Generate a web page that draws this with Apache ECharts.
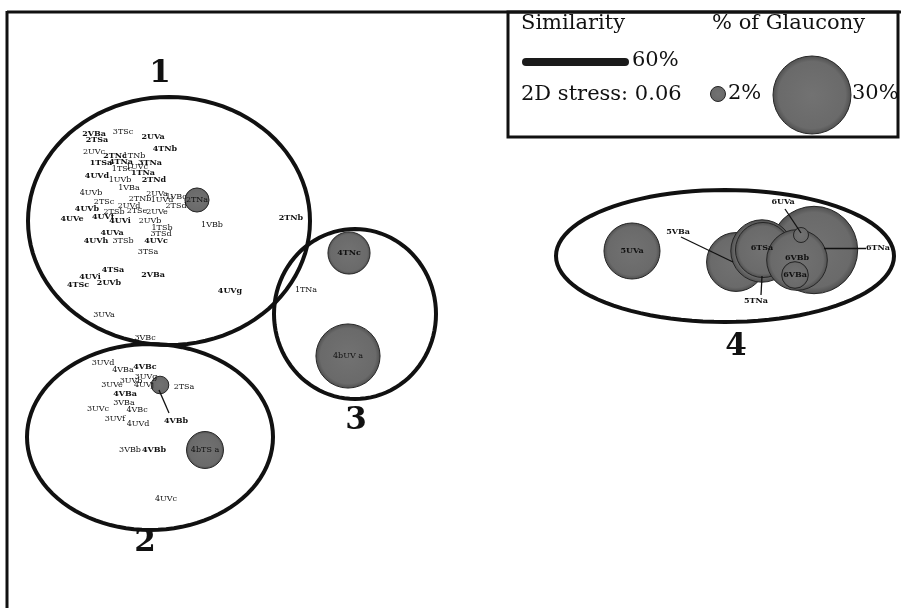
<!DOCTYPE html>
<html>
<head>
<meta charset="utf-8">
<script src="https://cdn.jsdelivr.net/npm/echarts@6/dist/echarts.min.js"></script>
<style>
  html, body { margin: 0; padding: 0; background: #fff; }
  #chart { width: 901px; height: 608px; }
</style>
</head>
<body>
<div id="chart"></div>
<script>
// nMDS ordination of samples (plot units), 2D stress 0.06

// Sample labels, regular weight: [name, MDS1, MDS2]
const samplesRegular = [
  ['3TSc', 123, 132], ['2UVc', 94, 152], ['1TNb', 134, 156], ['1TSc', 122, 169],
  ['1UVc', 137, 167], ['1UVb', 120, 180], ['1VBa', 129, 188], ['4UVb', 91, 193],
  ['2UVa', 157, 194], ['1UVd', 162, 200], ['1VBc', 176, 197], ['2TNb', 140, 199],
  ['2TSd', 176, 206], ['2TSc', 104, 202], ['2UVd', 129, 206], ['2TSb', 114, 212],
  ['2TSe', 137, 211], ['2UVe', 157, 212], ['2UVb', 150, 221], ['1VBb', 212, 225],
  ['1TSb', 162, 228], ['3TSd', 161, 234], ['3TSb', 123, 241], ['3TSa', 148, 252],
  ['3UVa', 104, 315], ['3VBc', 145, 338], ['1TNa', 306, 290],
  ['3UVd', 103, 363], ['4VBa', 123, 370], ['3UVg', 146, 377], ['3UVb', 131, 381],
  ['3UVe', 112, 385], ['4UVj', 144, 385], ['2TSa', 184, 387], ['3UVc', 98, 409],
  ['3VBa', 124, 403], ['4VBc', 137, 410], ['3UVf', 115, 419], ['4UVd', 138, 424],
  ['3VBb', 130, 450], ['4UVc', 166, 499]
];

// Sample labels, bold weight: [name, MDS1, MDS2]
const samplesBold = [
  ['2VBa', 94, 134], ['2TSa', 97, 140], ['2UVa', 153, 137], ['4TNb', 165, 149],
  ['2TNc', 115, 156], ['1TSa', 101, 163], ['4TNa', 121, 162], ['3TNa', 150, 163],
  ['4UVd', 97, 176], ['1TNa', 143, 173], ['2TNd', 154, 180], ['4UVb', 87, 209],
  ['4UVe', 72, 219], ['4UVf', 103, 217], ['4UVi', 120, 221], ['4UVa', 112, 233],
  ['4UVh', 96, 241], ['4UVc', 156, 241], ['4TSa', 113, 270], ['2VBa', 153, 275],
  ['4UVi', 90, 277], ['4TSc', 78, 285], ['2UVb', 109, 283], ['4UVg', 230, 291],
  ['2TNb', 291, 218], ['4VBc', 145, 367], ['4VBa', 125, 394], ['4VBb', 176, 421],
  ['4VBb', 154, 450]
];

// Samples containing glaucony: [name, MDS1, MDS2, % of glaucony]
const glaucony = [
  ['2TNa', 197, 200, 4],
  ['4TNc', 349, 253, 10],
  ['4bUV a', 348, 356, 21],
  ['4VBb', 160, 385, 2.5],
  ['4bTS a', 205, 450, 8],
  ['5UVa', 632, 251, 16.5],
  ['5VBa', 736, 262, 18],
  ['6TNa', 814, 250, 37],
  ['6TSa', 762, 251, 20],
  ['5TNa', 763, 250, 16],
  ['6VBb', 797, 260, 19],
  ['6VBa', 795, 275, 4.7],
  ['6UVa', 801, 235, 2]
];

// Label anchors of glaucony samples: [name, MDS1, MDS2, bold]
const glauconyLabels = [
  ['2TNa', 197, 200, 0], ['4TNc', 349, 253, 1], ['4bUV a', 348, 356, 0],
  ['4bTS a', 205, 450, 0], ['5UVa', 632, 251, 1], ['6TSa', 762, 248, 1],
  ['6VBb', 797, 258, 1], ['6VBa', 795, 275, 1], ['5VBa', 678, 232, 1],
  ['6UVa', 783, 202, 1], ['6TNa', 878, 248, 1], ['5TNa', 756, 301, 1]
];

// Leader lines from labels to their circles
const leaders = [
  [[169, 413], [159, 390]],
  [[681, 237], [733, 262]],
  [[785, 209], [801, 233]],
  [[824, 248], [866, 248]],
  [[761, 295], [762, 276]]
];

// 60 % similarity contours: [centre MDS1, centre MDS2, radius 1, radius 2]
const contours = [
  [169, 221, 141, 124],
  [150, 437, 123, 93],
  [355, 314, 81, 85],
  [725, 256, 169, 66]
];

// Group numbers: [label, MDS1, MDS2]
const groups = [['1', 160, 74], ['2', 145, 543], ['3', 356, 421], ['4', 736, 347]];

// Legend values
const legendPct = [2, 30];

const FONT = 'DejaVu Serif';
const INK = '#111111';

// circle diameter for a glaucony percentage
function glauconySize(pct) {
  return 15.5 * Math.sqrt(pct) - 6.9;
}

const bubbleFill = {
  type: 'radial', x: 0.5, y: 0.5, r: 0.5,
  colorStops: [{ offset: 0, color: '#727272' }, { offset: 0.85, color: '#6a6a6a' }, { offset: 1, color: '#4e4e4e' }]
};

function textSeries(rows, weight, size) {
  return {
    type: 'scatter',
    silent: true,
    symbolSize: 1,
    itemStyle: { color: 'rgba(0,0,0,0)', opacity: 1 },
    data: rows.map(r => ({ name: r[0], value: [r[1], r[2]] })),
    label: {
      show: true,
      position: 'inside',
      formatter: p => p.name,
      fontFamily: FONT,
      fontSize: size,
      fontWeight: weight,
      color: INK,
      opacity: 1
    },
    z: 5
  };
}

const chart = echarts.init(document.getElementById('chart'), null, { renderer: 'canvas' });

const legendSmall = glauconySize(legendPct[0]);
const legendBig = glauconySize(legendPct[1]);

chart.setOption({
  animation: false,
  backgroundColor: '#ffffff',
  grid: { left: 0, right: 0, top: 0, bottom: 0 },
  xAxis: { type: 'value', min: 0, max: 901, show: false },
  yAxis: { type: 'value', min: 0, max: 608, inverse: true, show: false },
  series: [
    {
      type: 'custom',
      silent: true,
      data: contours,
      renderItem: function (params, api) {
        const cx = api.value(0), cy = api.value(1), rx = api.value(2), ry = api.value(3);
        const pts = [];
        for (let i = 0; i <= 96; i++) {
          const a = (i / 96) * Math.PI * 2;
          pts.push(api.coord([cx + rx * Math.cos(a), cy + ry * Math.sin(a)]));
        }
        return {
          type: 'polygon',
          shape: { points: pts },
          style: { fill: 'none', stroke: INK, lineWidth: 4 }
        };
      },
      z: 1
    },
    {
      type: 'scatter',
      silent: true,
      data: glaucony.map(g => ({ name: g[0], value: [g[1], g[2], g[3]] })),
      symbolSize: v => glauconySize(v[2]),
      itemStyle: { color: bubbleFill, borderColor: '#262626', borderWidth: 1, opacity: 1 },
      z: 3
    },
    {
      type: 'lines',
      coordinateSystem: 'cartesian2d',
      silent: true,
      data: leaders.map(c => ({ coords: c })),
      lineStyle: { color: INK, width: 1.3, opacity: 1 },
      z: 4
    },
    textSeries(samplesRegular, 'normal', 8),
    textSeries(samplesBold, 'bold', 8),
    textSeries(glauconyLabels.filter(r => !r[3]), 'normal', 8),
    textSeries(glauconyLabels.filter(r => r[3]), 'bold', 8),
    textSeries(groups, 'bold', 31)
  ],
  graphic: [
    // frame
    { type: 'line', shape: { x1: 7, y1: 12, x2: 901, y2: 12 }, style: { stroke: INK, lineWidth: 3 }, silent: true },
    { type: 'line', shape: { x1: 7, y1: 11, x2: 7, y2: 608 }, style: { stroke: INK, lineWidth: 3 }, silent: true },
    // legend box
    { type: 'rect', shape: { x: 508, y: 12, width: 390, height: 125 }, style: { fill: 'none', stroke: INK, lineWidth: 3 }, silent: true },
    { type: 'text', left: 521, top: 13, style: { text: 'Similarity', font: '21px "DejaVu Serif"', fill: INK }, silent: true },
    { type: 'line', shape: { x1: 526, y1: 62, x2: 625, y2: 62 }, style: { stroke: '#1a1a1a', lineWidth: 8, lineCap: 'round' }, silent: true },
    { type: 'text', left: 632, top: 50, style: { text: '60%', font: '21px "DejaVu Serif"', fill: INK }, silent: true },
    { type: 'text', left: 521, top: 84, style: { text: '2D stress: 0.06', font: '21px "DejaVu Serif"', fill: INK }, silent: true },
    { type: 'text', left: 712, top: 13, style: { text: '% of Glaucony', font: '21px "DejaVu Serif"', fill: INK }, silent: true },
    { type: 'circle', shape: { cx: 718, cy: 94, r: legendSmall / 2 }, style: { fill: bubbleFill, stroke: '#262626', lineWidth: 1 }, silent: true },
    { type: 'text', left: 728, top: 83, style: { text: '2%', font: '21px "DejaVu Serif"', fill: INK }, silent: true },
    { type: 'circle', shape: { cx: 812, cy: 95, r: legendBig / 2 }, style: { fill: bubbleFill, stroke: '#262626', lineWidth: 1 }, silent: true },
    { type: 'text', left: 852, top: 83, style: { text: '30%', font: '21px "DejaVu Serif"', fill: INK }, silent: true }
  ]
});
</script>
</body>
</html>
